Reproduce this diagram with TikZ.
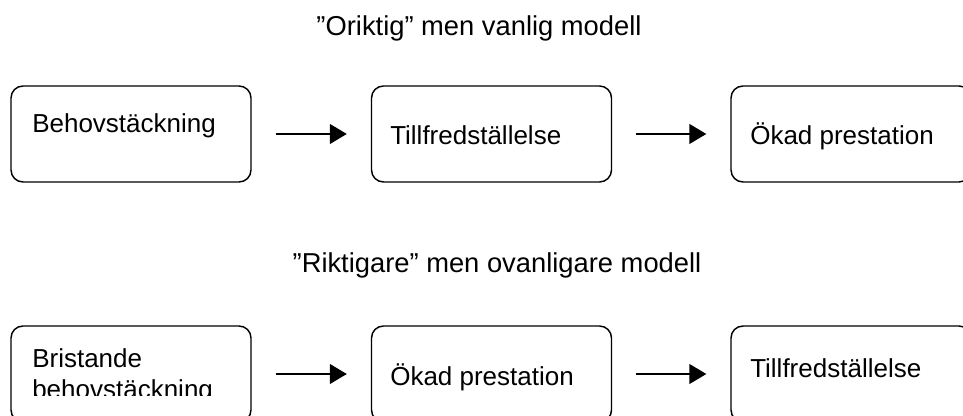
\documentclass[tikz,border=0pt]{standalone}
\usepackage{fontspec}
\setmainfont{Liberation Sans}
\usetikzlibrary{arrows.meta}
\begin{document}
\begin{tikzpicture}[x=0.75pt,y=-0.75pt,
  box/.style={draw, line width=1.1pt, rounded corners=9pt, minimum width=180pt, minimum height=72pt, inner sep=0pt},
  lbl/.style={anchor=base west, inner sep=0pt, font=\fontsize{19.5pt}{23.4pt}\selectfont},
  ttl/.style={anchor=base, inner sep=0pt, font=\fontsize{20.5pt}{24pt}\selectfont},
  flow/.style={-{Triangle[length=12.75pt,width=15pt]}, line width=1.1pt, shorten <=18pt, shorten >=18pt}]
\useasboundingbox (0,0) rectangle (963,416);
\clip (0,0) rectangle (963,416);
% top model
\node[ttl] (t1) at (479,36) {”Oriktig” men vanlig modell};
\node[box] (a1) at (131,134) {};
\node[box] (a2) at (491.5,134) {};
\node[box] (a3) at (851,134) {};
\node[lbl] (la1) at (32,133) {Behovstäckning};
\node[lbl] (la2) at (390,145) {Tillfredställelse};
\node[lbl] (la3) at (750,145) {Ökad prestation};
\draw[flow] (a1.east) -- (a2.west);
\draw[flow] (a2.east) -- (a3.west);
% bottom model
\node[ttl] (t2) at (497,273) {”Riktigare” men ovanligare modell};
\node[box] (b1) at (131,374) {};
\node[box] (b2) at (491.5,374) {};
\node[box] (b3) at (851,374) {};
\begin{scope}
\clip (11,326) rectangle (251,395);
\node[lbl] (lb1a) at (32,368) {Bristande};
\node[lbl] (lb1b) at (32,398) {behovstäckning};
\end{scope}
\node[lbl] (lb2) at (390,385) {Ökad prestation};
\node[lbl] (lb3) at (750,378) {Tillfredställelse};
\draw[flow] (b1.east) -- (b2.west);
\draw[flow] (b2.east) -- (b3.west);
\end{tikzpicture}
\end{document}
